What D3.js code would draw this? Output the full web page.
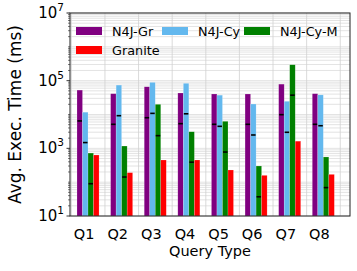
<!DOCTYPE html>
<html><head><meta charset="utf-8">
<script src="https://cdn.jsdelivr.net/npm/d3@7"></script>
<style>body{margin:0;background:#fff}svg{display:block}text{font-family:"DejaVu Sans",sans-serif}</style>
</head><body><svg id="c" width="357" height="271"></svg>
<script>
const categories = ["Q1","Q2","Q3","Q4","Q5","Q6","Q7","Q8"];
const seriesNames = ["N4J-Gr","N4J-Cy","N4J-Cy-M","Granite"];
const colors = ["#800080","#63b8ee","#008000","#ff0000"];
const n4jGr   = [52700, 41200, 66000, 43200, 40400, 40400, 79000, 41200];
const n4jCy   = [11700, 74000, 89000, 83500, 37300, 20400, 24600, 38000];
const n4jCyM  = [725, 1170, 20000, 3090, 6300, 301, 295000, 555];
const granite = [635, 191, 452, 452, 229, 159, 1630, 170];
const markGr  = [6450, 5130, 8030, 5360, 5130, 5130, 9880, 5130];
const markCy  = [1480, 9220, 10800, 10500, 4470, 2480, 2980, 4660];
const markCyM = [90, 142, 2370, 390, 777, 37, 37300, 69];
const yTickLabels = [1, 3, 5, 7];
const xLabel = "Query Type", yLabel = "Avg. Exec. Time (ms)";

const values = [n4jGr, n4jCy, n4jCyM, granite];
const marks = [markGr, markCy, markCyM, null];

const L=70, R=350, T=13, B=216;
const svg = d3.select("#c");
const w = 0.164;
const x = d3.scaleLinear().domain([-0.29, 8.04]).range([L, R]);
const y = d3.scaleLog().domain([10, 1e7]).range([B, T]);

// grid
const g = svg.append("g");
const minors = [];
for (let e=1;e<7;e++) for (let m=1;m<10;m++) minors.push(m*Math.pow(10,e));
minors.push(1e7);
g.selectAll("line.hg").data(minors).join("line")
  .attr("x1",L).attr("x2",R).attr("y1",d=>y(d)).attr("y2",d=>y(d))
  .attr("stroke", "#dcdcdc").attr("stroke-width",0.8);
g.selectAll("line.vg").data(d3.range(9)).join("line")
  .attr("y1",T).attr("y2",B).attr("x1",d=>x(d-0.25)).attr("x2",d=>x(d-0.25))
  .attr("stroke","#d0d0d0").attr("stroke-width",0.8);

// bars
values.forEach((vals,k)=>{
  svg.append("g").selectAll("rect").data(vals).join("rect")
    .attr("x",(d,i)=>x(i + k*w - w/2))
    .attr("width", x(w)-x(0))
    .attr("y", d=>y(d)).attr("height", d=>B-y(d))
    .attr("fill", colors[k]).attr("stroke","#fff").attr("stroke-opacity",0.35).attr("stroke-width",0.5);
  if (marks[k]) {
    svg.append("g").selectAll("line").data(marks[k]).join("line")
      .attr("x1",(d,i)=>x(i + k*w - w/2)+0.5).attr("x2",(d,i)=>x(i + k*w + w/2)-0.5)
      .attr("y1",d=>y(d)).attr("y2",d=>y(d))
      .attr("stroke","#000").attr("stroke-width",1.6);
  }
});

// frame
svg.append("rect").attr("x",L).attr("y",T).attr("width",R-L).attr("height",B-T)
  .attr("fill","none").attr("stroke","#222").attr("stroke-width",1);

// y ticks
const yt = svg.append("g");
for (let e=1;e<7;e++) for (let m=1;m<10;m++) {
  const v=m*Math.pow(10,e);
  const major = (m===1 && yTickLabels.includes(e));
  yt.append("line").attr("x1",L).attr("x2",L-(major?3.5:2)).attr("y1",y(v)).attr("y2",y(v))
    .attr("stroke","#222").attr("stroke-width",major?0.9:0.6);
}
yt.append("line").attr("x1",L).attr("x2",L-3.5).attr("y1",y(1e7)).attr("y2",y(1e7)).attr("stroke","#222");
yTickLabels.forEach(e=>{
  const t = yt.append("text").attr("x",L-6).attr("y",y(Math.pow(10,e))+5).attr("text-anchor","end")
    .attr("font-size",15).attr("fill","#000");
  t.append("tspan").text("10");
  t.append("tspan").attr("font-size",10.5).attr("dy",-7).text(String(e));
});

// x tick labels
svg.append("g").selectAll("text").data(categories).join("text")
  .attr("x",(d,i)=>x(i+0.13)).attr("y",B+22.5).attr("text-anchor","middle")
  .attr("font-size",14.5).attr("fill","#000").text(d=>d);

svg.append("text").attr("x",(L+R)/2).attr("y",B+39.5).attr("text-anchor","middle")
  .attr("font-size",14.5).attr("fill","#000").text(xLabel);
svg.append("text").attr("transform",`translate(21,${(T+B)/2}) rotate(-90)`).attr("text-anchor","middle")
  .attr("font-size",17).attr("fill","#000").text(yLabel);

// legend
const leg = svg.append("g");
const legPos = [[76,27],[162,27],[244,27],[76,46]];
seriesNames.forEach((s,k)=>{
  const [lx,ly]=legPos[k];
  leg.append("rect").attr("x",lx).attr("y",ly).attr("width",26).attr("height",8).attr("fill",colors[k]);
  leg.append("text").attr("x",lx+36).attr("y",ly+8.5).attr("font-size",12.8).attr("fill","#000").text(s);
});
</script></body></html>
